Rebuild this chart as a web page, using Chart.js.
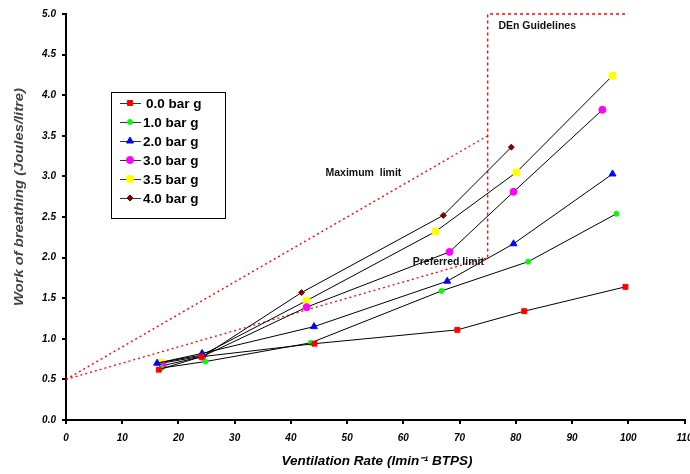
<!DOCTYPE html>
<html>
<head>
<meta charset="utf-8">
<script src="https://cdn.jsdelivr.net/npm/chart.js@4.4.1/dist/chart.umd.min.js"></script>
<style>
  html, body { margin: 0; padding: 0; background: #fff; }
  #wrap { width: 690px; height: 474px; position: relative; }
</style>
</head>
<body>
<div id="wrap"><canvas id="wobChart"></canvas></div>
<script>
// Ventilation rate (l/min) and work of breathing (J/l) per chamber pressure
const seriesLabels = ['0.0 bar g', '1.0 bar g', '2.0 bar g', '3.0 bar g', '3.5 bar g', '4.0 bar g'];

const bar00X = [16.5, 24.1, 44.2, 69.6, 81.5, 99.5];
const bar00Y = [0.62, 0.78, 0.94, 1.11, 1.34, 1.64];

const bar10X = [17.0, 24.8, 43.5, 66.8, 82.2, 97.9];
const bar10Y = [0.64, 0.72, 0.95, 1.59, 1.95, 2.54];

const bar20X = [16.2, 24.2, 44.1, 67.8, 79.6, 97.2];
const bar20Y = [0.70, 0.82, 1.15, 1.71, 2.17, 3.03];

const bar30X = [17.2, 24.2, 42.8, 68.2, 79.6, 95.4];
const bar30Y = [0.67, 0.78, 1.39, 2.07, 2.81, 3.82];

const bar35X = [16.9, 24.2, 42.8, 65.7, 80.1, 97.2];
const bar35Y = [0.71, 0.80, 1.47, 2.32, 3.05, 4.24];

const bar40X = [17.0, 24.5, 41.9, 67.1, 79.2];
const bar40Y = [0.70, 0.79, 1.57, 2.52, 3.36];

// DEn guideline limits
const maxLimitX = [0, 75];
const maxLimitY = [0.5, 3.5];
const prefLimitX = [0, 75];
const prefLimitY = [0.5, 2.0];
const guideBoxX = [75, 75, 100];
const guideBoxY = [2.0, 5.0, 5.0];

const xTicks = [0, 10, 20, 30, 40, 50, 60, 70, 80, 90, 100, 110];
const yTicks = [0.0, 0.5, 1.0, 1.5, 2.0, 2.5, 3.0, 3.5, 4.0, 4.5, 5.0];

const FONT = '"Liberation Sans", Arial, sans-serif';

function pts(xs, ys) {
    return xs.map((x, i) => ({ x: x, y: ys[i] }));
}

const seriesStyle = [
    { color: '#ff0000', shape: 'rect', r: 3.5 },
    { color: '#00ff00', shape: 'circle', r: 2.5 },
    { color: '#0000ff', shape: 'triangle', r: 4 },
    { color: '#ff00ff', shape: 'circle', r: 3.5 },
    { color: '#ffff00', shape: 'rect', r: 4.5 },
    { color: '#800000', shape: 'rectRot', r: 3 }
];

const seriesData = [
    pts(bar00X, bar00Y), pts(bar10X, bar10Y), pts(bar20X, bar20Y),
    pts(bar30X, bar30Y), pts(bar35X, bar35Y), pts(bar40X, bar40Y)
];

const datasets = seriesData.map((d, i) => ({
    label: seriesLabels[i],
    data: d,
    showLine: true,
    borderColor: '#000',
    borderWidth: 1,
    pointStyle: seriesStyle[i].shape,
    pointRadius: seriesStyle[i].r,
    pointBackgroundColor: seriesStyle[i].color,
    pointBorderColor: seriesStyle[i].color,
    pointBorderWidth: 1,
    clip: false
}));

function limitLine(xs, ys, dash) {
    return {
        label: '',
        data: pts(xs, ys),
        showLine: true,
        borderColor: '#ff0000',
        borderWidth: 1.3,
        borderDash: dash,
        pointRadius: 0,
        clip: false
    };
}
datasets.push(limitLine(maxLimitX, maxLimitY, [2, 3]));
datasets.push(limitLine(prefLimitX, prefLimitY, [2, 3]));
datasets.push(limitLine(guideBoxX, guideBoxY, [3, 3]));

// draw text stretched to a given width (the original titles are wide)
function fitText(c, text, x, y, width) {
    const w = c.measureText(text).width;
    c.save();
    c.translate(x, y);
    c.scale(width / w, 1);
    c.fillText(text, 0, 0);
    c.restore();
}

// text notes and custom legend, drawn on top
const notesPlugin = {
    id: 'notes',
    afterDraw(chart) {
        const c = chart.ctx;
        const xs = chart.scales.x, ys = chart.scales.y;
        c.save();
        c.fillStyle = '#111';
        c.textBaseline = 'middle';

        c.font = 'bold 10.5px ' + FONT;
        c.textAlign = 'center';
        c.fillText('Maximum  limit', xs.getPixelForValue(52.9), ys.getPixelForValue(3.04));
        c.fillText('Preferred limit', xs.getPixelForValue(68.0), ys.getPixelForValue(1.95));
        c.textAlign = 'left';
        c.fillText('DEn Guidelines', xs.getPixelForValue(76.9), ys.getPixelForValue(4.85));

        // axis titles
        c.fillStyle = '#000';
        c.font = 'bold italic 12px ' + FONT;
        c.textAlign = 'center';
        fitText(c, 'Ventilation Rate (lmin\u207B\u00B9 BTPS)', 377, 462, 191);
        c.save();
        c.translate(19, 197);
        c.rotate(-Math.PI / 2);
        c.fillStyle = '#444';
        c.font = 'bold italic 13px ' + FONT;
        fitText(c, 'Work of breathing (Joules/litre)', 0, 0, 218);
        c.restore();

        // legend box
        const lx = 111, ly = 92, lw = 114, lh = 126;
        c.fillStyle = '#fff';
        c.fillRect(lx, ly, lw, lh);
        c.strokeStyle = '#000';
        c.lineWidth = 1;
        c.strokeRect(lx + 0.5, ly + 0.5, lw, lh);
        c.font = 'bold 13.5px ' + FONT;
        c.textAlign = 'left';
        seriesLabels.forEach((lab, i) => {
            const y = ly + 11 + i * 19;
            c.strokeStyle = '#333';
            c.lineWidth = 1;
            c.beginPath();
            c.moveTo(lx + 9, y + 0.5);
            c.lineTo(lx + 30, y + 0.5);
            c.stroke();
            const st = seriesStyle[i];
            c.fillStyle = st.color;
            c.strokeStyle = st.color;
            Chart.helpers.drawPoint(c, { pointStyle: st.shape, radius: st.r, borderWidth: 1 }, lx + 19, y);
            c.fillStyle = '#000';
            c.fillText(lab, lx + (i === 0 ? 35 : 32), y + 1);
        });
        c.restore();
    }
};

const ctx = document.getElementById('wobChart').getContext('2d');
new Chart(ctx, {
    type: 'scatter',
    data: { datasets: datasets },
    plugins: [notesPlugin],
    options: {
        responsive: true,
        maintainAspectRatio: false,
        animation: false,
        layout: { padding: { left: 0, top: 14, right: 5, bottom: 0 } },
        plugins: {
            legend: { display: false },
            tooltip: { enabled: false }
        },
        scales: {
            x: {
                type: 'linear',
                min: 0,
                max: 110,
                afterBuildTicks: (axis) => { axis.ticks = xTicks.map(v => ({ value: v })); },
                afterFit: (axis) => { axis.height = 54; axis.paddingLeft = 0; axis.paddingRight = 0; },
                border: { display: true, color: '#000', width: 2 },
                grid: { drawOnChartArea: false, drawTicks: true, tickLength: 4, color: '#000', lineWidth: 2 },
                ticks: {
                    color: '#000',
                    padding: 8,
                    maxRotation: 0,
                    font: { family: FONT, size: 10, weight: 'bold', style: 'italic' },
                    callback: (v) => String(v)
                }
            },
            y: {
                type: 'linear',
                min: 0,
                max: 5,
                afterBuildTicks: (axis) => { axis.ticks = yTicks.map(v => ({ value: v })); },
                afterFit: (axis) => { axis.width = 66; axis.paddingTop = 0; axis.paddingBottom = 0; },
                border: { display: true, color: '#000', width: 2 },
                grid: { drawOnChartArea: false, drawTicks: true, tickLength: 4, color: '#000', lineWidth: 2 },
                ticks: {
                    color: '#000',
                    padding: 6,
                    font: { family: FONT, size: 10, weight: 'bold', style: 'italic' },
                    callback: (v) => Number(v).toFixed(1)
                }
            }
        }
    }
});
</script>
</body>
</html>
